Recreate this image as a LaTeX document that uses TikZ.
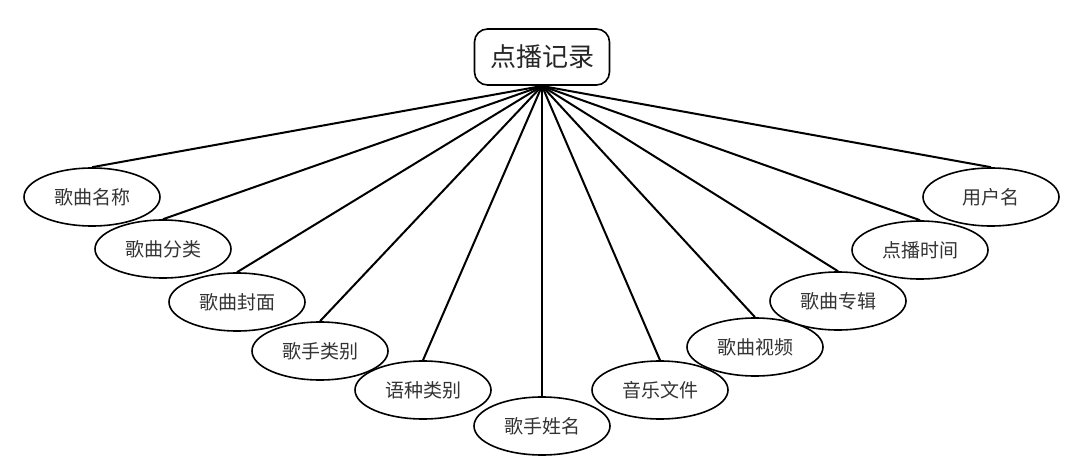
\documentclass[tikz,border=0pt]{standalone}
\usepackage{fontspec}
\newfontfamily\cjk{Noto Sans CJK SC}
\usetikzlibrary{shapes.geometric,backgrounds}
\begin{document}
\begin{tikzpicture}[x=1pt,y=-1pt,
  attr/.style={ellipse,draw=black,line width=1.6pt,fill=white,minimum width=136pt,minimum height=58pt,inner sep=0pt,font=\cjk\fontsize{19}{22}\selectfont,text=black!80},
  rootbox/.style={rectangle,rounded corners=13pt,draw=black,line width=1.6pt,fill=white,minimum width=135pt,minimum height=56pt,font=\cjk\fontsize{26}{30}\selectfont,text=black!85},
  link/.style={line width=2pt,draw=black}]
\useasboundingbox (0,0) rectangle (1071,476);
\node[rootbox] (root) at (542,57) {点播记录};
\coordinate (hub) at (542,86);
\node[attr] (a1) at (92,197) {歌曲名称};
\node[attr] (a2) at (163,249) {歌曲分类};
\node[attr] (a3) at (237,302) {歌曲封面};
\node[attr] (a4) at (320,351) {歌手类别};
\node[attr] (a5) at (423,390) {语种类别};
\node[attr] (a6) at (542,426) {歌手姓名};
\node[attr] (a7) at (660,390) {音乐文件};
\node[attr] (a8) at (755,347) {歌曲视频};
\node[attr] (a9) at (838,301) {歌曲专辑};
\node[attr] (a10) at (920,250) {点播时间};
\node[attr] (a11) at (991,197) {用户名};
\begin{scope}[on background layer]
\foreach \n in {a1,a2,a3,a4,a5,a6,a7,a8,a9,a10,a11}{
  \draw[link] (hub) -- (\n.north);
}
\end{scope}
\end{tikzpicture}
\end{document}
